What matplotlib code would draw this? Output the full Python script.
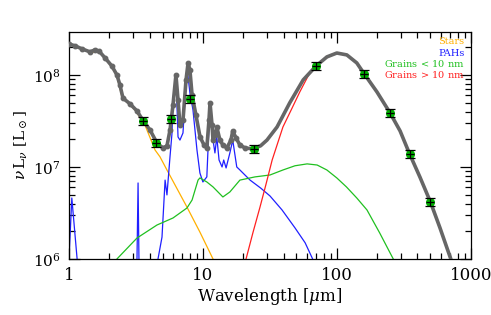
import numpy as np
import matplotlib
matplotlib.use("Agg")
import matplotlib.pyplot as plt
from matplotlib.ticker import FixedLocator, FuncFormatter, LogLocator, NullFormatter

plt.rcParams['font.family'] = ['DejaVu Serif']
plt.rcParams['mathtext.fontset'] = 'dejavuserif'

# Total model / spectrum (gray)
total_wave = [1.0, 1.11, 1.25, 1.435, 1.56, 1.675, 1.86, 2.09, 2.28, 2.40, 2.53, 2.86, 3.22,
              3.57, 4.03, 4.54, 5.03, 5.39, 5.68, 5.98, 6.29, 6.52, 6.74, 7.1, 7.48, 7.75,
              8.0, 8.3, 8.87, 9.52, 10.2, 10.7, 11.1, 11.3, 11.7, 11.9, 12.3, 12.7, 13.4,
              14.1, 15.1, 16.2, 16.7, 17.7, 18.9, 20.6, 23.7, 27.0, 30.1, 35.8, 44.5, 56.1,
              70, 84.3, 100, 118.8, 141, 160, 199.5, 250, 297, 350, 417, 500, 590, 710, 800]
total_lum = [2.17e8, 2.07e8, 1.92e8, 1.78e8, 1.87e8, 1.82e8, 1.53e8, 1.25e8, 1.0e8, 7.8e7,
             5.6e7, 4.84e7, 4.06e7, 3.2e7, 2.52e7, 1.82e7, 1.61e7, 1.69e7, 2.52e7, 4.72e7,
             1.0e8, 5.35e7, 2.86e7, 3.2e7, 8.8e7, 1.35e8, 1.13e8, 6.07e7, 3.67e7, 2.12e7,
             1.73e7, 1.61e7, 3.2e7, 4.97e7, 2.86e7, 1.96e7, 2.2e7, 2.72e7, 1.96e7, 1.73e7,
             1.61e7, 1.96e7, 2.46e7, 2.06e7, 1.73e7, 1.61e7, 1.57e7, 1.7e7, 1.96e7, 2.72e7,
             4.97e7, 8.83e7, 1.25e8, 1.57e8, 1.73e8, 1.65e8, 1.35e8, 1.03e8, 6.53e7,
             3.86e7, 2.46e7, 1.38e7, 7.8e6, 4.17e6, 2.17e6, 1.0e6, 6.0e5]

# Stars (orange)
stars_wave = [1.0, 1.25, 1.435, 1.675, 1.86, 2.09, 2.28, 2.49, 3.11, 3.69, 4.39, 4.78, 5.39, 7.6, 9.5, 11.9, 13.0]
stars_lum = [2.15e8, 1.90e8, 1.76e8, 1.78e8, 1.50e8, 1.22e8, 9.7e7, 5.77e7, 4.17e7, 2.86e7,
             1.53e7, 1.29e7, 9.27e6, 3.67e6, 1.96e6, 1.0e6, 7.0e5]

# PAHs (blue)
pah_wave = [0.98, 1.0, 1.05, 1.15, 1.2, 3.15, 3.22, 3.28, 3.33, 3.4, 4.4, 4.62, 4.95, 5.22, 5.39,
            5.68, 5.88, 5.98, 6.29, 6.52, 6.74, 7.1, 7.34, 7.6, 8.0, 8.43, 9.03, 9.5, 10.0,
            10.7, 11.3, 11.9, 12.3, 12.7, 13.2, 13.9, 14.3, 14.9, 15.9, 16.7, 17.9, 18.9,
            22.5, 27.0, 31.7, 39.0, 48.8, 58.0, 66.0, 70.0]
pah_lum = [5e5, 1.0e6, 4.6e6, 1.0e6, 5e5, 5e5, 1.0e6, 6.7e6, 1.0e6, 5e5, 5e5, 1.0e6, 1.73e6,
           7.2e6, 4.97e6, 1.29e7, 2.34e7, 5.35e7, 1.0e8, 2.12e7, 1.96e7, 2.34e7, 5.35e7,
           1.22e8, 6.37e7, 4.17e7, 1.53e7, 8.6e6, 6.87e6, 7.8e6, 4.97e7, 1.96e7, 1.42e7,
           2.12e7, 1.19e7, 1.0e7, 1.19e7, 9.75e6, 1.42e7, 1.96e7, 1.0e7, 9.27e6, 7.2e6,
           5.9e6, 4.84e6, 3.41e6, 2.17e6, 1.5e6, 1.0e6, 7.0e5]

# Grains < 10 nm (green)
small_wave = [2.1, 2.28, 3.22, 4.54, 5.98, 7.6, 8.3, 9.2, 9.5, 10.7, 11.9, 14.1, 15.9, 18.9,
              24.5, 31.7, 39.6, 48.7, 60, 71.3, 84.3, 100, 118, 141, 168, 209, 264, 290]
small_lum = [7e5, 1.0e6, 1.69e6, 2.34e6, 2.79e6, 3.58e6, 4.37e6, 7.2e6, 7.6e6, 6.87e6,
             6.07e6, 4.72e6, 5.35e6, 7.2e6, 7.8e6, 8.18e6, 9.27e6, 1.03e7, 1.08e7, 1.05e7,
             9.27e6, 7.6e6, 6.07e6, 4.6e6, 3.41e6, 1.92e6, 1.0e6, 7e5]

# Grains > 10 nm (red)
big_wave = [20.0, 21.0, 23.7, 26.7, 29.5, 32.9, 39.6, 46.4, 52.9, 62.7, 75, 93.5, 100, 118.8,
            141, 160, 199.5, 250, 297, 350, 417, 500, 590, 710, 800]
big_lum = [7e5, 1.0e6, 1.96e6, 3.67e6, 6.37e6, 1.19e7, 2.72e7, 4.38e7, 6.53e7, 1.05e8, 1.38e8,
           1.69e8, 1.72e8, 1.64e8, 1.34e8, 1.02e8, 6.5e7, 3.85e7, 2.45e7, 1.37e7, 7.78e6,
           4.15e6, 2.16e6, 1.0e6, 6.0e5]

# Photometry
phot_wave = [3.6, 4.5, 5.8, 8.0, 24, 70, 160, 250, 350, 500]
phot_lum = [3.16e7, 1.82e7, 3.33e7, 5.49e7, 1.57e7, 1.25e8, 1.03e8, 3.86e7, 1.38e7, 4.17e6]

legend_labels = ['Stars', 'PAHs', 'Grains$\\,<\\,$10 nm', 'Grains$\\,>\\,$10 nm']
legend_colors = ['#FFB000', '#2020FF', '#20C020', '#FF2020']

fig = plt.figure(figsize=(4.91, 3.15), dpi=100)
ax = fig.add_axes([0.1405, 0.1778, 0.8182, 0.7216])

ax.plot(stars_wave, stars_lum, color=legend_colors[0], lw=0.9, zorder=2)
ax.plot(pah_wave, pah_lum, color=legend_colors[1], lw=0.9, zorder=2)
ax.plot(small_wave, small_lum, color=legend_colors[2], lw=0.9, zorder=2)
ax.plot(big_wave, big_lum, color=legend_colors[3], lw=0.9, zorder=2)

tw = np.array(total_wave)
tl = np.array(total_lum)
ax.plot(tw, tl, color='#666666', lw=2.6, zorder=3, solid_capstyle='round',
        solid_joinstyle='round')
mask = tw <= 24
ax.plot(tw[mask], tl[mask], 'o', color='#666666', ms=3.2, zorder=3)

pw = np.array(phot_wave)
pl = np.array(phot_lum)
ax.plot(pw, pl, 'o', color='#00B000', ms=5.5, zorder=4)
ax.errorbar(pw, pl, yerr=0.1 * pl, fmt='none', ecolor='black', elinewidth=0.9,
            capsize=3.5, capthick=0.9, zorder=5)
ax.plot(pw, pl, marker='_', ls='none', color='black', ms=6, mew=0.9, zorder=5)

ax.set_xscale('log')
ax.set_yscale('log')
ax.set_xlim(1, 1000)
ax.set_ylim(1e6, 2.95e8)

ax.xaxis.set_major_locator(FixedLocator([1, 10, 100, 1000]))
ax.xaxis.set_major_formatter(FuncFormatter(lambda v, p: '%d' % round(v)))
ax.xaxis.set_minor_locator(LogLocator(base=10, subs=np.arange(2, 10)))
ax.xaxis.set_minor_formatter(NullFormatter())
ax.yaxis.set_minor_locator(LogLocator(base=10, subs=np.arange(2, 10)))
ax.yaxis.set_minor_formatter(NullFormatter())

ax.tick_params(which='both', direction='in', top=True, right=True, labelsize=11, width=0.9)
ax.tick_params(axis='x', which='major', labelsize=12)
ax.tick_params(which='major', length=8, pad=6)
ax.tick_params(which='minor', length=4)
for s in ax.spines.values():
    s.set_linewidth(0.9)

ax.set_xlabel('Wavelength [$\\mu$m]', fontsize=12, labelpad=1)
ax.set_ylabel('$\\nu\\,\\mathrm{L}_\\nu\\ [\\mathrm{L}_\\odot]$', fontsize=11, labelpad=2)

ys = [0.955, 0.905, 0.858, 0.81]
for lab, col, yy in zip(legend_labels, legend_colors, ys):
    ax.text(0.985, yy, lab, color=col, fontsize=7, ha='right', va='center',
            transform=ax.transAxes)

fig.savefig('out.png', dpi=100)
